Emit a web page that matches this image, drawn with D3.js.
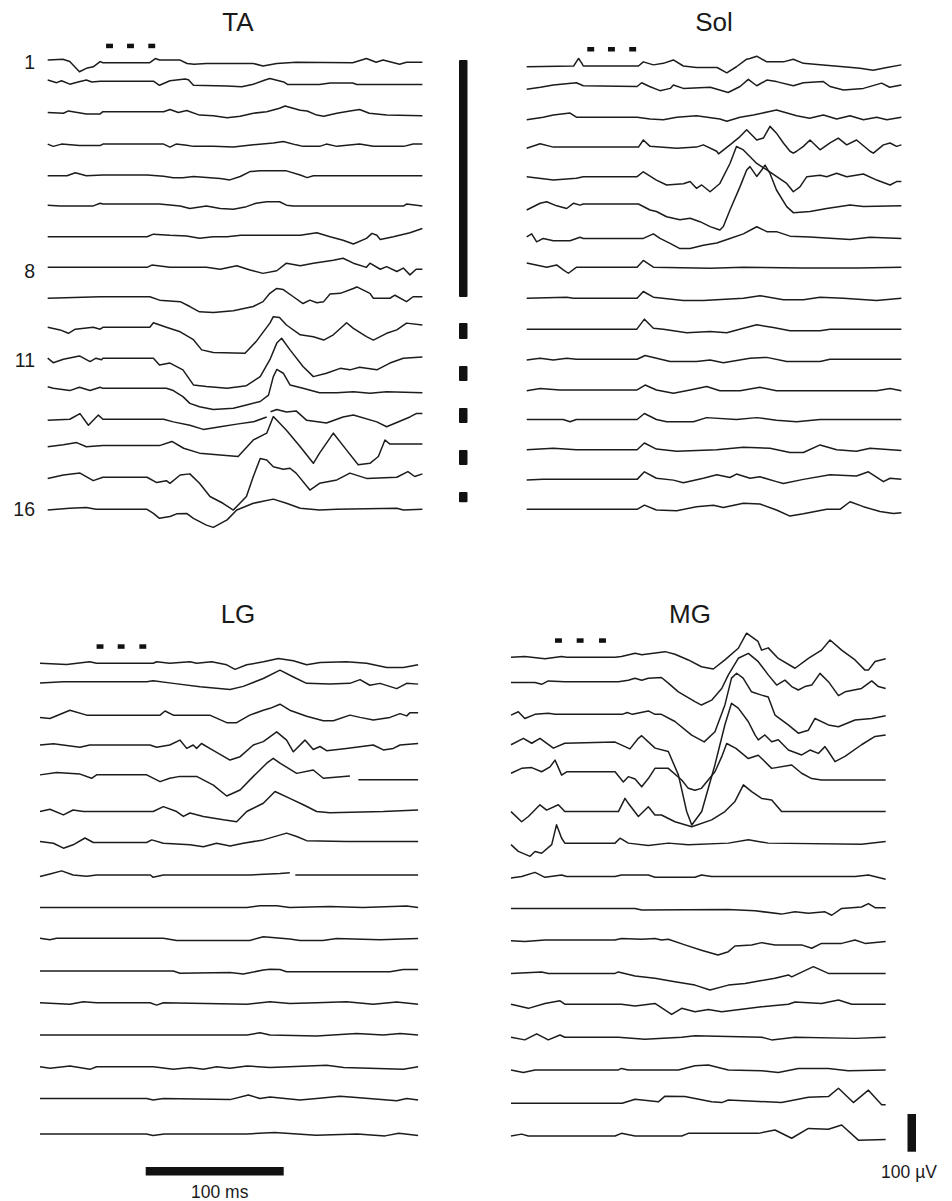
<!DOCTYPE html>
<html><head><meta charset="utf-8">
<script src="https://cdn.jsdelivr.net/npm/d3@7"></script>
<style>body{margin:0;background:#fff} svg{display:block} text{font-family:"Liberation Sans",Arial,Helvetica,sans-serif;fill:#1a1a1a}</style>
</head><body><svg id="c" width="952" height="1201"></svg>
<script>
// ===== DATA: each trace is a list of [time (ms), amplitude (µV)]; null amplitude = gap in the record =====
const muscles = ["TA", "Sol", "LG", "MG"];
const traceLabels = [{trace: 1, text: "1"}, {trace: 8, text: "8"}, {trace: 11, text: "11"}, {trace: 16, text: "16"}];
const timeBarMs = 100, ampBarUV = 100;
const timeBarLabel = "100 ms", ampBarLabel = "100 µV";

const taTraces = [
[[0,7],[4,8],[11,9],[16,3],[23,-24],[28,-15],[33,-11],[38,3],[40,0],[74,0],[78,11],[81,7],[96,7],[101,-2],[106,-4],[115,-2],[149,-2],[156,-9],[166,-2],[180,1],[221,0],[231,11],[238,1],[243,7],[255,-4],[260,1],[271.5,1]],
[[0,3],[6.5,-4],[10,1],[16,-8],[22,-2],[28,3],[32,-2],[38,0],[76.6,0],[81,-11],[88.6,1],[99.5,6],[102,4],[105.6,-11],[130,-13],[140.6,-15],[149,-8],[157.5,3],[161,7],[171,-2],[174,-9],[197,-9],[204.6,-5],[221,-5],[224,-9],[271.5,-9]],
[[0,-2],[11.4,-4],[15,2],[28,-6],[38,-6],[40,0],[84,0],[88.6,6],[94.7,-2],[100.7,3],[110,-9],[120,-11],[130,-16],[139.5,-12],[149,-4],[158.7,0],[168,9],[172,15],[183,4],[188,2],[195,-9],[200,-12],[209.5,-4],[219,2],[226,6],[233,-4],[245.6,-9],[271.5,-11]],
[[0,0],[4,-6],[10,0],[23,-4],[38,-4],[40,0],[84,0],[88.6,-8],[93,0],[100.7,-3],[105.6,-6],[120,-6],[134.5,-8],[149,-2],[163.5,3],[170.7,7],[180,-2],[185,-6],[197,-6],[202,0],[209.5,-6],[226,0],[236,-6],[258,-6],[264.8,0],[271.5,0]],
[[0,-2],[14,-2],[20,6],[28,-2],[40,0],[72,0],[84,-3],[91,-7],[98,-7],[105.6,-4],[125,-9],[132,-13],[139.5,-4],[146.6,9],[154,11],[173,11],[183,0],[188,-7],[192.5,-2],[271.5,-2]],
[[0,-3],[9,-5],[33,-5],[38,2],[40,0],[81,0],[96,-5],[103,-12],[115,-5],[125,-12],[134.5,-14],[144,-7],[151,2],[158.7,6],[168,6],[173,-3],[178,-5],[258,-5],[260,0],[271.5,-5]],
[[0,0],[72,0],[76.6,7],[88.6,4],[100.7,2],[110,-4],[120,0],[130,0],[140,4],[183,4],[195,11],[204.6,0],[214,-9],[221.5,-19],[231,-4],[235,9],[238.5,4],[241,-7],[250.5,0],[262.5,11],[271.5,22]],
[[0,0],[72,0],[75.5,6],[88.6,0],[115,0],[125,-5],[137,4],[146.6,-7],[156,-16],[166,-9],[173,11],[183,4],[192.5,11],[207,19],[214,24],[221.5,11],[231,0],[233.5,11],[241,-5],[245.6,2],[253,-11],[257.7,-2],[262.5,-20],[267,-5],[271.5,-5]],
[[0,-4],[38,0],[74,0],[81,-9],[96,-13],[103,-26],[110,-40],[120,-42],[134.5,-37],[149,-26],[156,-13],[161,9],[166,22],[170.7,19],[178,0],[185,-18],[190,-9],[195,-16],[200,-13],[204.6,7],[212,9],[221.5,22],[224,26],[233.5,9],[236,-4],[248,-4],[251.6,4],[260,-13],[264.8,0],[271.5,0]],
[[0,0],[9,-7],[15,-16],[20,-5],[33,0],[38,-5],[40,0],[74,0],[76.6,12],[86,0],[96,-12],[105.6,-33],[111.6,-60],[120,-67],[143,-69],[151,-38],[161,11],[163.5,28],[168,26],[173,6],[183,-20],[192.5,-25],[200,-34],[207,-20],[216.6,12],[221.5,-3],[231,-25],[236,-34],[245.6,-16],[253,-7],[260,11],[271.5,6]],
[[0,0],[4,-12],[11.4,-3],[23,6],[30.7,-9],[35,0],[39,-4],[40,0],[76.6,0],[81,-18],[88.6,-13],[98,-31],[105.6,-71],[115,-75],[130,-80],[144,-73],[154,-49],[161,-4],[166,40],[169.5,53],[175.6,22],[185,-22],[192.5,-49],[202,-40],[212,-27],[219,-31],[226,-24],[238.5,-31],[248,-13],[257.7,0],[271.5,3]],
[[0,4],[4,0],[16,-6],[23,3],[30.7,-6],[38,3],[40,0],[86,0],[91,-6],[98,-22],[103,-40],[110,-49],[120,-56],[134.5,-53],[144,-44],[154,-35],[160,-18],[163.5,31],[166,50],[170.7,40],[175.6,9],[185,0],[197,-12],[209.5,-12],[221.5,-9],[233.5,-13],[245.6,-9],[271.5,-12]],
[[0,-3],[16,0],[23.4,15],[29.5,-16],[36.7,11],[40,0],[84,0],[91,-7],[103,-16],[112.8,-27],[125,-20],[137,-13],[149,-7],[158.7,6],[159.5,null],[161.5,20],[166,26],[173,19],[180,22],[187.7,-3],[202,-10],[214,6],[221.5,11],[238.5,-7],[245.6,-20],[262.5,6],[267,15],[271.5,15]],
[[0,-3],[11.4,2],[21,8],[28,-3],[40,0],[81,0],[90,11],[98.5,-7],[110,-20],[125,-25],[138,-29],[149,15],[158.7,33],[163.5,77],[173,41],[183,-3],[192.5,-47],[197,-20],[207,33],[216.6,-12],[225,-51],[233.5,-47],[239.6,-29],[244.4,15],[248,4],[271.5,4]],
[[0,-3],[11.4,6],[23.4,11],[33,-9],[40,0],[72,0],[79,-14],[86,-9],[88.6,-16],[96,6],[103,9],[110,-16],[117.6,-51],[127,-69],[134.5,-87],[144,-51],[149,2],[154,50],[158.7,46],[163.5,28],[170.7,21],[175.6,24],[180,11],[190,-34],[197,-16],[209.5,-7],[219,11],[231,-3],[253,0],[261,15],[266,2],[271.5,9]],
[[0,-2],[16,3],[28,5],[35,0],[72,0],[76.6,-11],[81,-24],[88.6,-19],[93.5,-12],[100.7,-11],[105.6,-24],[115,-42],[120,-48],[130,-28],[137,-2],[149,16],[163.5,27],[173,16],[183,3],[197,-2],[209.5,0],[253,3],[257.7,-2],[271.5,0]]
];

const solTraces = [
[[0,-2],[34,0],[37.6,20],[40,7],[41,0],[81,0],[84.5,11],[91.8,3],[99,7],[106.3,16],[113.5,0],[123,-4],[138,-4],[145,-18],[152,-2],[159.4,18],[161.8,20],[166.7,26],[174,11],[186,11],[193.2,18],[200.5,7],[212.6,3],[229.5,-2],[241.5,-6],[251,-11],[261,-4],[271.5,3]],
[[0,-5],[10,0],[19.3,6],[36,12],[41,4],[80,2],[83.3,12],[89,2],[96.6,-9],[104,-3],[106.3,6],[113.5,-3],[133,0],[146,-14],[154.6,2],[160.6,21],[166.7,4],[174,19],[181,15],[193.2,4],[200.5,12],[215,15],[219.8,2],[229.5,-7],[244,-3],[257.2,11],[263,0],[271.5,6]],
[[0,-7],[12,0],[19.3,6],[31.4,11],[36,0],[80,0],[89.4,-5],[99,-7],[108.7,0],[123,4],[140,-5],[145,-11],[154.6,0],[164.3,6],[176,15],[181,19],[195.6,4],[205,-3],[215,6],[224.6,-5],[234.3,4],[244,-7],[253.6,0],[261,-7],[271.5,0]],
[[0,-3],[9.7,9],[19.3,0],[81,0],[84.5,19],[89.4,2],[108.7,-3],[123,0],[128,6],[137.7,-11],[139,-18],[147.3,6],[154.6,28],[159.4,46],[166.7,19],[171.5,24],[176.3,55],[181,37],[186,11],[190.8,-11],[193.2,-16],[195.6,-11],[200.5,2],[205.3,19],[212.6,-7],[219.8,11],[225.8,24],[231.9,6],[239,19],[248.8,-11],[251.2,-16],[258.5,6],[263.3,11],[268,2],[271.5,6]],
[[0,0],[19.3,-9],[36,-4],[41,0],[80,0],[84.5,13],[94,-9],[101.4,-22],[113.5,-19],[118.4,-13],[123,-31],[126.8,-22],[132.9,-40],[140,-18],[147.3,35],[152,80],[157,71],[166.7,35],[174,18],[188.4,-18],[193.2,-40],[198,-27],[203,0],[212.6,4],[217.4,0],[224.6,9],[231.9,0],[244,7],[253.6,-9],[263.3,-22],[268,-13],[271.5,-13]],
[[0,-16],[9.7,2],[14.5,6],[21.7,-5],[29,-12],[34,2],[38.6,-3],[41,0],[81,0],[89.4,-16],[94,-20],[101.4,-34],[111,-42],[118.4,-38],[125.6,-47],[132.9,-60],[140,-69],[142.5,-60],[147.3,-16],[154.6,46],[159.4,90],[161.8,99],[166.7,73],[170.3,90],[172.7,103],[176.3,81],[181,37],[188.4,-7],[193.2,-23],[205.3,-20],[217.4,-12],[234.3,-3],[244,-7],[271.5,-5]],
[[0,4],[3.6,12],[7.2,-9],[12,0],[19.3,-6],[31.4,-6],[38.6,3],[41,0],[84.5,0],[91.8,12],[96.6,0],[103.9,-13],[111,-27],[118.4,-27],[128,-18],[137.7,-12],[147.3,0],[157,12],[166.7,31],[174,18],[181,18],[190.8,6],[205.3,4],[234.3,-3],[248.8,3],[271.5,0]],
[[0,11],[14.5,0],[21.7,6],[26.5,-7],[30.2,-16],[36.2,0],[80,0],[84.5,18],[91.8,0],[132.9,-3],[157,0],[200,-2],[240,-2],[271.5,0]],
[[0,0],[29,3],[33.8,0],[80,0],[84.5,18],[91.8,3],[113.5,-6],[128,-6],[157,0],[169,7],[186,-4],[200.5,-4],[212.6,3],[229.5,0],[253.6,-6],[271.5,0]],
[[0,0],[79.7,0],[85.3,27],[91.8,3],[99,0],[116,-9],[133,-6],[145,-9],[157,3],[166.7,12],[178.7,5],[190.8,-4],[212.6,-4],[219.8,0],[271.5,0]],
[[0,-2],[9.7,3],[19.3,-2],[29,3],[36,0],[80,0],[85.8,10],[103.9,-6],[123,-6],[132.9,-2],[142.5,-9],[161.8,3],[174,5],[188.4,-6],[212.6,-6],[219.8,0],[271.5,0]],
[[0,-2],[9.7,4],[24,0],[80,0],[85.8,13],[94,0],[106.3,-9],[118.4,0],[130.4,9],[140,-2],[154.6,-2],[169,7],[181,-2],[253.6,-2],[263.3,4],[271.5,-2]],
[[0,0],[26.5,0],[31.4,-6],[36,0],[80,0],[85.3,16],[94,0],[101.4,-6],[120.8,-6],[130.4,5],[152,0],[166.7,5],[181,-2],[195.6,-6],[212.6,0],[271.5,0]],
[[0,0],[19.3,4],[36,0],[80,0],[85.3,18],[94,2],[108.7,-4],[137.7,0],[157,7],[176.3,4],[190.8,-7],[200.5,-7],[212.6,13],[224.6,0],[239,-4],[248.8,4],[271.5,-2]],
[[0,-2],[12,0],[80,0],[85.3,20],[94,3],[106.3,-2],[113.5,-9],[128,3],[137.7,12],[147.3,5],[152,14],[161.8,3],[169,7],[181,-6],[186,-11],[200.5,0],[219.8,12],[239,9],[247.6,20],[258.5,-6],[263.3,3],[271.5,0]],
[[0,0],[80,0],[85.3,11],[94,-2],[108.7,-4],[123,7],[135.3,11],[142.5,5],[157,16],[169,14],[181,-2],[190.8,-18],[200.5,-12],[217.4,0],[227,0],[234.3,20],[244,7],[256,-6],[265.7,-11],[271.5,-9]]
];

const lgTraces = [
[[0,0],[19.3,-3],[36,4],[41,0],[82,0],[84.5,4],[94,0],[108.7,4],[113.5,0],[124.4,4],[135.3,-4],[141.3,-16],[149.8,-4],[162,4],[172.7,13],[183.6,7],[193.2,-4],[203,2],[222,4],[236.7,0],[251.2,-11],[263.3,-11],[274,-4]],
[[0,-3],[17,0],[77.3,0],[82,3],[96.6,-4],[116,-13],[137.7,-20],[147.3,-12],[161.8,9],[173.9,31],[183.6,13],[193.2,-4],[210,-6],[224.6,-4],[231.9,6],[239,-9],[246.4,-4],[258.5,-18],[265.7,-4],[274,-6]],
[[0,-6],[7.2,-9],[21.7,13],[33.8,0],[41,0],[87,0],[90.6,11],[96.6,0],[123,0],[135.3,-20],[142.5,-20],[152,0],[161.8,13],[166.7,18],[173.9,29],[181,13],[193.2,-3],[205.3,-15],[212.6,-15],[224.6,0],[231.9,-6],[241.5,-13],[253.6,-6],[260.9,4],[265.7,-2],[268,6],[274,6]],
[[0,0],[9.7,3],[29,-6],[36,0],[79.7,0],[84.5,-6],[94,0],[101.4,13],[106.3,-9],[111,0],[113.5,-9],[117,4],[123,-9],[137.7,-40],[145,-31],[154.6,0],[161.8,9],[171.5,35],[178.7,13],[183.6,-18],[192,13],[198,-12],[202.9,-4],[207.7,-15],[222,-9],[241.5,0],[248.8,-13],[256,-9],[260.9,0],[274,4]],
[[0,0],[12,6],[29,2],[37.4,-9],[41,0],[77.3,0],[87,-18],[94,-9],[101.4,-4],[113.5,-4],[125.6,-27],[135.3,-56],[145,-40],[154.6,-4],[164.3,31],[169,44],[173.9,31],[186,4],[198,13],[205.3,-9],[224.6,-3],[226,null],[230.7,-13],[274,-13]],
[[0,0],[7.2,6],[17,-9],[24,4],[31.4,0],[82,0],[89.4,13],[99,0],[103.9,-13],[108.7,-4],[118.4,-13],[132.9,-22],[142.5,-27],[149.8,0],[161.8,22],[170.3,53],[181,35],[190.8,18],[200.5,0],[210,-3],[248.8,0],[274,4]],
[[0,3],[9.7,-2],[17,-15],[24,-6],[32.6,12],[38.6,0],[77.3,0],[81,7],[89.4,-2],[108.7,-6],[118.4,-11],[128,-2],[137.7,-9],[147.3,-2],[161.8,7],[178.7,25],[186,16],[193.2,5],[222,3],[274,3]],
[[0,-4],[7.2,3],[15.7,11],[24,0],[33.8,-3],[41,0],[80,0],[82,-6],[89.4,0],[152,0],[173.9,4],[181,6],[182,null],[185,0],[274,0]],
[[0,0],[150,0],[159.4,5],[171.5,5],[181,0],[210,3],[234,0],[265.7,4],[274,0]],
[[0,0],[7.2,-4],[12,0],[89.4,0],[99,-6],[152,-6],[161.8,4],[181,-2],[188.4,-6],[205,-6],[215,-1],[246.4,-4],[274,-1]],
[[0,0],[96.6,0],[101.4,-6],[137.7,-4],[147.3,-8],[161.8,3],[166.7,5],[173.9,4],[178.7,-2],[253.6,-2],[263.3,4],[274,4]],
[[0,0],[21.7,-4],[31.4,3],[41,0],[79.7,0],[84.5,-6],[89.4,0],[150,-4],[166.7,3],[181,-2],[200.5,0],[222,3],[241.5,-4],[258.5,2],[274,-4]],
[[0,0],[150,0],[159.4,6],[166.7,0],[200.5,-3],[229.5,4],[248.8,0],[260.9,4],[274,0]],
[[0,0],[7.2,-4],[21.7,2],[36.2,-7],[41,0],[82,0],[96.6,-7],[108.7,-2],[118.4,-7],[128,0],[137.7,-4],[150,2],[166.7,-2],[207.7,4],[220,-2],[263.3,-7],[274,0]],
[[0,0],[77.3,0],[82,-4],[89.4,0],[137.7,-3],[151,9],[159.4,0],[166.7,4],[188.4,-4],[200.5,0],[217.4,6],[227,3],[258.5,-6],[265.7,0],[274,-4]],
[[0,0],[77,0],[82,-4],[90,0],[150,0],[170,4],[200,-3],[230,0],[250,-5],[260,2],[274,-4]]
];

const mgTraces = [
[[0,0],[10,2],[24.6,-4],[36.7,2],[40.3,0],[75.4,0],[80,2],[90,11],[94.7,7],[111.6,15],[118.8,8],[128.5,-7],[138,-25],[146.6,-31],[155,-7],[164.7,24],[170.7,64],[179,42],[181.6,19],[186.4,25],[193.7,-3],[205.8,-29],[215.5,-3],[225,19],[231.2,46],[239.6,19],[249.3,-7],[256.5,-34],[259,-34],[263.8,-11],[271.5,-4]],
[[0,-2],[17.4,-2],[22.2,-7],[27,2],[39,0],[77.8,0],[85,4],[89.9,9],[94.7,4],[99.5,9],[109,11],[114,-4],[121.3,-27],[133.3,-53],[138,-62],[145.4,-49],[152.7,-18],[157.5,18],[164.7,62],[172,75],[179.2,53],[186.4,18],[192.5,-9],[198.5,4],[203.4,-13],[208.2,-22],[213,-13],[217.9,-9],[223.9,22],[230,0],[237.3,-37],[242.1,-27],[254,-18],[261.4,2],[266.2,-13],[271.5,-18]],
[[0,-2],[5.3,7],[10,-11],[17.4,0],[27,3],[32,0],[80.6,0],[84.2,5],[88,0],[99.5,9],[104.4,0],[109,0],[118.8,-19],[130.9,-55],[140,-73],[147.8,-46],[155,25],[159.8,96],[163.5,109],[168.2,96],[174.2,60],[181.6,51],[186.4,46],[191.3,-2],[200.9,-28],[208.2,-50],[215.5,-42],[220.3,-11],[230,-28],[237.3,-33],[249.3,-15],[261.4,-11],[271.5,-4]],
[[0,-4],[9,13],[15,0],[21,13],[30.7,-13],[39,0],[75.4,3],[86.2,-15],[92.3,13],[94.7,20],[104.4,-13],[114,-22],[121.3,-84],[127.3,-181],[131,-217],[138.2,-181],[147.8,-57],[155,49],[159.8,106],[164.7,93],[172,57],[176.8,22],[179.2,9],[184,22],[188.9,4],[193.7,9],[201,-18],[210.6,-31],[216.7,-18],[222.7,-27],[227.5,-9],[230,-22],[234.8,-49],[242,-35],[254,-4],[263.8,18],[271.5,22]],
[[0,-4],[7.7,9],[15,11],[22.2,0],[28.3,13],[31.9,31],[36.7,-9],[40.3,0],[75.4,0],[81.4,-27],[85,-13],[89.9,-19],[94.7,-40],[99.5,-18],[104.3,9],[114,9],[123.7,-22],[128.5,-44],[133.3,-49],[138,-44],[147.8,0],[152.7,40],[156.3,75],[163,62],[172,35],[179.2,44],[188.9,9],[203.4,18],[210.6,-4],[217.9,-18],[225,-22],[271.5,-22]],
[[0,0],[7.7,-27],[12.6,-13],[21,18],[25.8,4],[34.3,18],[39,0],[77.8,0],[82.6,35],[85,22],[92.3,-13],[99.5,13],[104.3,-9],[109,-9],[118.8,-27],[131,-40],[145.4,-22],[155,0],[162.3,27],[168.4,71],[174.4,53],[181.6,35],[188.9,31],[196.1,0],[271.5,0]],
[[0,-4],[5.3,-22],[13.8,-35],[17.4,-22],[22.2,-27],[29.5,-4],[33,49],[36.7,13],[39,0],[75.4,0],[79,13],[85,0],[99.5,-6],[114,0],[128.5,-4],[157.5,0],[172,9],[186.4,0],[254,-3],[271.5,4]],
[[0,-4],[7.7,0],[17.4,11],[24.6,-2],[36.7,4],[40.3,0],[75.4,0],[80,4],[99.5,4],[104.3,-2],[133.3,-2],[138,4],[145.4,0],[249.3,0],[259,4],[271.5,-7]],
[[0,0],[89.9,0],[94.7,-4],[157.5,-3],[176.8,-6],[196,-15],[205.8,-9],[215.5,-13],[227.5,-9],[232.4,-18],[239.6,0],[254,4],[259,13],[263.8,2],[271.5,2]],
[[0,-2],[10,-4],[24.6,0],[75.4,0],[80,4],[94.7,2],[104.3,4],[109,0],[114,2],[126,-13],[138,-27],[150,-40],[157.5,-31],[162.3,-16],[174.4,-13],[181.6,-7],[191.3,-13],[210.6,-13],[217.9,-22],[225,-9],[239.6,-9],[249.3,0],[256.5,-9],[271.5,-4]],
[[0,0],[22.2,4],[27,0],[75.4,0],[77.8,4],[89.9,-7],[104.3,-13],[118.8,-22],[133.3,-31],[144.2,-44],[157.5,-31],[169.6,-27],[181.6,-19],[191.3,-13],[201,-4],[203.4,-9],[219.1,18],[230,0],[271.5,0]],
[[0,0],[12.6,-11],[24.6,2],[35.5,9],[39,0],[80,0],[89.9,-5],[104.3,2],[116.4,-27],[123.7,-11],[133.3,-20],[143,-14],[152.7,-20],[181.6,-7],[201,0],[205.8,6],[225,2],[237.3,11],[246.9,0],[271.5,0]],
[[0,0],[10,-7],[18.6,9],[27,-7],[35.5,6],[39,0],[77.8,0],[97,-5],[123.7,0],[133.3,4],[181.6,0],[188.9,-7],[205.8,0],[249.3,-3],[271.5,0]],
[[0,0],[8.9,-7],[17.4,0],[77.8,0],[80,4],[85,0],[121.3,0],[133.3,11],[143,13],[157.5,0],[181.6,-2],[193.7,-7],[208.2,4],[230,4],[244.4,-2],[271.5,0]],
[[0,0],[80.6,0],[89.9,11],[106.8,4],[111.6,19],[126,18],[145.4,4],[152.7,2],[157.5,9],[196,2],[215.5,16],[230,18],[237.3,40],[248.1,2],[259,35],[268.6,-4],[271.5,-4]],
[[0,0],[7.7,5],[12.6,0],[75.4,0],[80,7],[89.9,0],[123.7,0],[128.5,7],[179.2,7],[191.3,16],[203.4,-6],[215.5,20],[230,18],[239.6,29],[251.7,-11],[271.5,-9]]
];

// per-sweep DC offset (µV) of each trace
const taOffsets  = [0,30,28,21,18,20,12,10,11,9,6,5,2,11,6,0];
const solOffsets = [0,22,21,20,20,26,13,15,11,7,6,3,3,1,1,0];
const lgOffsets  = [0,34,29,33,37,23,24,21,18,20,16,15,13,12,11,0];
const mgOffsets  = [0,20,18,26,35,14,15,11,11,12,8,11,8,6,2,0];

// stimulus pulse onsets (ms), pulse duration (ms)
const taStim  = [42.3, 57.5, 72.9];
const solStim = [43.9, 58.9, 74.3];
const lgStim  = [41, 56.3, 72];
const mgStim  = [31.9, 47.6, 63.8];
const stimDur = 5;

// TA sweep grouping bars (in trace-index units, 1-based)
const taGroups = [[0.91, 8.87], [9.74, 10.28], [11.19, 11.69], [12.6, 13.1], [14.01, 14.51], [15.42, 15.76]];

// ===== LAYOUT =====
const pxPerMs = 1.38, pxPerUV = 0.377;
const layout = {
  TA:  {x0: 47.7,  yFirst: 62.7,  yLast: 509.3, titleX: 238, titleY: 30.5},
  Sol: {x0: 526.7, yFirst: 66,    yLast: 509.3, titleX: 714, titleY: 30.5},
  LG:  {x0: 40,    yFirst: 663.3, yLast: 1134,  titleX: 238, titleY: 623},
  MG:  {x0: 511,   yFirst: 657.3, yLast: 1136,  titleX: 690, titleY: 623}
};
const panelData = {
  TA:  {traces: taTraces,  offsets: taOffsets,  stim: taStim},
  Sol: {traces: solTraces, offsets: solOffsets, stim: solStim},
  LG:  {traces: lgTraces,  offsets: lgOffsets,  stim: lgStim},
  MG:  {traces: mgTraces,  offsets: mgOffsets,  stim: mgStim}
};

const svg = d3.select("#c");
const amp = d3.scaleLinear().domain([0, 100]).range([0, -100 * pxPerUV]);

muscles.forEach(m => {
  const L = layout[m], D = panelData[m];
  const n = D.traces.length;
  const x = d3.scaleLinear().domain([0, 272]).range([L.x0, L.x0 + 272 * pxPerMs]);
  const row = d3.scaleLinear().domain([0, n - 1]).range([L.yFirst, L.yLast]);
  const g = svg.append("g");

  g.append("text").attr("x", L.titleX).attr("y", L.titleY)
    .attr("text-anchor", "middle").attr("font-size", 26).text(m);

  g.selectAll("rect.stim").data(D.stim).join("rect").attr("class", "stim")
    .attr("x", d => x(d)).attr("width", d => x(d + stimDur) - x(d))
    .attr("y", L.yFirst - 19).attr("height", 4.5).attr("fill", "#111");

  D.traces.forEach((tr, i) => {
    const base = row(i);
    const off = D.offsets[i];
    const line = d3.line().defined(d => d[1] !== null)
      .x(d => x(d[0])).y(d => base + amp(d[1] + off));
    g.append("path").attr("d", line(tr)).attr("fill", "none")
      .attr("stroke", "#1c1c1c").attr("stroke-width", 1.5).attr("stroke-linejoin", "round");
  });

  if (m === "TA") {
    g.selectAll("text.lab").data(traceLabels).join("text").attr("class", "lab")
      .attr("x", 35).attr("y", d => row(d.trace - 1) + 6.5)
      .attr("text-anchor", "end").attr("font-size", 19.5).text(d => d.text);
    g.selectAll("rect.grp").data(taGroups).join("rect").attr("class", "grp")
      .attr("x", 459).attr("width", 8.5)
      .attr("y", d => row(d[0] - 1)).attr("height", d => row(d[1] - 1) - row(d[0] - 1))
      .attr("rx", 1).attr("fill", "#111");
  }
  if (m === "LG") {
    svg.append("rect").attr("x", x(76.6)).attr("width", x(76.6 + timeBarMs) - x(76.6))
      .attr("y", 1167).attr("height", 8.5).attr("fill", "#111");
    svg.append("text").attr("x", (x(76.6) + x(76.6 + timeBarMs)) / 2 + 5).attr("y", 1197.5)
      .attr("text-anchor", "middle").attr("font-size", 17.5).text(timeBarLabel);
  }
  if (m === "MG") {
    const ab = svg.append("g");
    ab.append("rect").attr("x", 907.5).attr("width", 8.5)
      .attr("y", 1151.7 + amp(ampBarUV)).attr("height", -amp(ampBarUV)).attr("fill", "#111");
    ab.append("text").attr("x", 909).attr("y", 1178).attr("text-anchor", "middle")
      .attr("font-size", 17.5).text(ampBarLabel);
  }
});
</script></body></html>
